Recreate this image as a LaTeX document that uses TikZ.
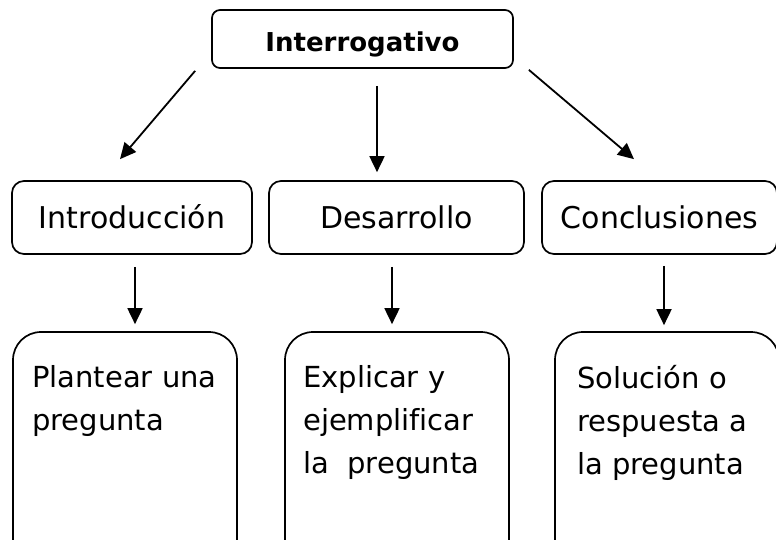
\documentclass[tikz,border=0pt]{standalone}
\usepackage{fontspec}
\setmainfont[Ligatures=NoCommon]{DejaVu Sans}
\usetikzlibrary{arrows.meta,calc}
\tikzset{
  topbox/.style={draw, line width=1.7pt, rounded corners=8pt, inner sep=0pt,
    minimum width=301pt, minimum height=58pt, text height=24pt, text depth=0pt,
    font=\fontsize{26}{30}\selectfont\bfseries},
  midbox/.style={draw, line width=1.7pt, rounded corners=12pt, inner sep=0pt,
    minimum height=73pt, text height=21pt, text depth=0pt,
    font=\fontsize{30}{36}\selectfont},
  bigbox/.style={draw, line width=1.7pt, rounded corners=28pt, inner sep=0pt,
    minimum width=224pt, minimum height=240pt},
  boxtext/.style={anchor=north west, align=left, inner sep=0pt,
    font=\fontsize{29}{43}\selectfont},
  arr/.style={line width=1.8pt, -{Triangle[length=16pt,width=15pt]}}
}
\begin{document}
\begin{tikzpicture}[x=1pt,y=-1pt]
\useasboundingbox (0,0) rectangle (776,539);
\clip (0,0) rectangle (776,539);
\fill[white] (0,0) rectangle (776,539);
% top
\node[topbox] (top) at (362.5,39) {Interrogativo};
% middle row
\node[midbox, minimum width=240pt] (intro) at (132,217.5) {Introducción};
\node[midbox, minimum width=255pt] (dev) at (396.5,217.5) {Desarrollo};
\node[midbox, minimum width=235pt] (concl) at (659.5,217.5) {Conclusiones};
% bottom row
\node[bigbox] (b1) at (125,452) {};
\node[bigbox] (b2) at (397,452) {};
\node[bigbox] (b3) at (667,452) {};
\node[boxtext] (t1) at (32,365) {Plantear una\\pregunta};
\node[boxtext] (t2) at (303,365) {Explicar y\\ejemplificar\\la\ \ pregunta};
\node[boxtext] (t3) at (577,365) {Solución o\\respuesta a\\la pregunta};
% arrows top -> middle
\draw[arr] ($(top.south west)+(-16,2)$) -- ($(intro.north)+(-12,-21)$);
\draw[arr] ($(top.south)+(14.5,17)$) -- ($(dev.north)+(-19.5,-8)$);
\draw[arr] ($(top.south east)+(15,1)$) -- ($(concl.north)+(-25.5,-21)$);
% arrows middle -> bottom
\draw[arr] ($(intro.south)+(3,12)$) -- ($(b1.north)+(10,-7)$);
\draw[arr] ($(dev.south)+(-4.5,12)$) -- ($(b2.north)+(-5,-7)$);
\draw[arr] ($(concl.south)+(4.5,11)$) -- ($(b3.north)+(-3,-6)$);
\end{tikzpicture}
\end{document}
